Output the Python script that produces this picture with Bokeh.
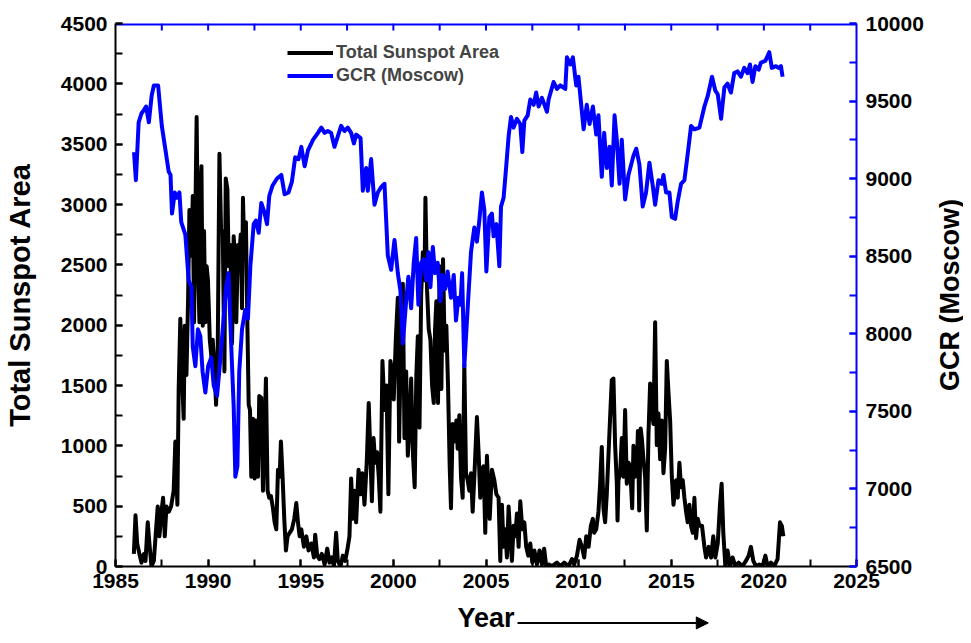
import numpy as np
from bokeh.plotting import figure
from bokeh.models import (Range1d, LinearAxis, SingleIntervalTicker, Legend, LegendItem,
                          Arrow, NormalHead)
from bokeh.layouts import column, row
from bokeh.core.properties import value
from bokeh.embed import file_html
from bokeh.resources import INLINE

# ---------------- data ----------------
ssa_year = [1985.99, 1986.08, 1986.17, 1986.29, 1986.40, 1986.53, 1986.62, 1986.74, 1986.83, 1986.94,
            1987.07, 1987.19, 1987.28, 1987.37, 1987.48, 1987.57, 1987.66, 1987.75, 1987.88, 1988.00,
            1988.14, 1988.23, 1988.34, 1988.41, 1988.50, 1988.59, 1988.68, 1988.74, 1988.83, 1988.92,
            1988.99, 1989.10, 1989.17, 1989.24, 1989.31, 1989.38, 1989.46, 1989.53, 1989.58, 1989.64,
            1989.71, 1989.78, 1989.85, 1989.92, 1989.99, 1990.09, 1990.18, 1990.25, 1990.35, 1990.43,
            1990.52, 1990.61, 1990.70, 1990.79, 1990.88, 1990.95, 1991.04, 1991.11, 1991.20, 1991.29,
            1991.38, 1991.43, 1991.52, 1991.61, 1991.68, 1991.76, 1991.83, 1991.88, 1991.95, 1992.04,
            1992.12, 1992.19, 1992.26, 1992.33, 1992.42, 1992.51, 1992.58, 1992.69, 1992.76, 1992.87,
            1992.96, 1993.05, 1993.12, 1993.21, 1993.30, 1993.39, 1993.50, 1993.59, 1993.68, 1993.77,
            1993.86, 1993.93, 1994.02, 1994.11, 1994.20, 1994.29, 1994.40, 1994.52, 1994.65, 1994.76,
            1994.85, 1994.94,
            1995.03, 1995.17, 1995.30, 1995.42, 1995.57, 1995.71, 1995.78, 1995.89, 1996.01, 1996.14,
            1996.29, 1996.43, 1996.55, 1996.68, 1996.79, 1996.91, 1997.00, 1997.15, 1997.27, 1997.40,
            1997.51, 1997.63, 1997.72, 1997.81, 1997.90, 1997.99, 1998.12, 1998.23, 1998.32, 1998.44,
            1998.57, 1998.67, 1998.76, 1998.84, 1998.93, 1999.02, 1999.12, 1999.21, 1999.30, 1999.41,
            1999.52, 1999.63, 1999.73, 1999.84, 1999.93, 2000.02, 2000.13, 2000.24, 2000.31, 2000.42,
            2000.51, 2000.60, 2000.69, 2000.78, 2000.87, 2000.96, 2001.06, 2001.15, 2001.24, 2001.32,
            2001.41, 2001.50, 2001.59, 2001.68, 2001.73, 2001.82, 2001.91, 2002.00, 2002.09, 2002.18,
            2002.25, 2002.32, 2002.41, 2002.50, 2002.59, 2002.68, 2002.77, 2002.86, 2002.95, 2003.04,
            2003.11, 2003.20, 2003.29, 2003.40, 2003.47, 2003.56, 2003.65, 2003.74, 2003.83, 2003.92,
            2004.01, 2004.10, 2004.19, 2004.28, 2004.37, 2004.51, 2004.60, 2004.69, 2004.78, 2004.87,
            2004.96, 2005.05,
            2005.20, 2005.32, 2005.45, 2005.56, 2005.68, 2005.77, 2005.86, 2005.95, 2006.04, 2006.13,
            2006.22, 2006.31, 2006.40, 2006.49, 2006.58, 2006.67, 2006.76, 2006.85, 2006.96, 2007.07,
            2007.17, 2007.28, 2007.39, 2007.50, 2007.61, 2007.75, 2007.89, 2008.02, 2008.14, 2008.25,
            2008.40, 2008.56, 2008.83, 2009.01, 2009.22, 2009.46, 2009.64, 2009.76, 2009.91, 2010.05,
            2010.18, 2010.30, 2010.41, 2010.54, 2010.66, 2010.77, 2010.84, 2010.95, 2011.07, 2011.16,
            2011.25, 2011.34, 2011.43, 2011.52, 2011.61, 2011.70, 2011.79, 2011.88, 2011.97, 2012.06,
            2012.10, 2012.15, 2012.24, 2012.33, 2012.42, 2012.51, 2012.60, 2012.69, 2012.78, 2012.89,
            2012.96, 2013.05, 2013.14, 2013.20, 2013.27, 2013.35, 2013.41, 2013.50, 2013.59, 2013.68,
            2013.77, 2013.86, 2013.95, 2014.04, 2014.13, 2014.22, 2014.31, 2014.40, 2014.49, 2014.58,
            2014.67, 2014.76, 2014.85, 2014.94, 2015.03, 2015.12,
            2015.26, 2015.35, 2015.44, 2015.53, 2015.62, 2015.71, 2015.80, 2015.89, 2015.98, 2016.07,
            2016.16, 2016.25, 2016.34, 2016.43, 2016.52, 2016.66, 2016.79, 2016.88, 2017.02, 2017.15,
            2017.27, 2017.38, 2017.51, 2017.63, 2017.72, 2017.81, 2017.92, 2018.04, 2018.17, 2018.31,
            2018.46, 2018.64, 2018.85, 2019.03, 2019.18, 2019.30, 2019.43, 2019.57, 2019.75, 2019.93,
            2020.08, 2020.20, 2020.38, 2020.56, 2020.74, 2020.87, 2020.97, 2021.05]

ssa_area = [104, 424, 191, 104, 32, 104, 46, 366, 191, 3,
            46, 308, 497, 250, 454, 570, 250, 497, 454, 497,
            628, 1035, 512, 1471, 2053, 1587, 1224, 1995, 1587, 2227,
            2954, 2576, 3071, 2024, 2896, 3725, 2489, 2024, 3071, 3318,
            1995, 2780, 2024, 2489, 2373, 1879, 1733, 1879, 1617, 1340,
            1820, 3420, 2780, 2780, 1617, 3216, 3129, 2489, 2664, 1849,
            2736, 2605, 2024, 2664, 2576, 2751, 2140, 3056, 2635, 2853,
            1995, 1340, 1297, 744, 1224, 730, 1209, 744, 1413, 1399,
            628, 1122, 1558, 628, 570, 584, 483, 366, 308, 802,
            744, 1035, 744, 395, 133, 250, 279, 308, 395, 526,
            366, 250,
            308, 163, 250, 133, 191, 75, 264, 90, 61, 104,
            17, 148, 32, 75, 3, 279, 46, 3, 90, 46,
            133, 250, 730, 395, 628, 366, 802, 599, 773, 512,
            889, 1355, 918, 541, 1064, 860, 947, 744, 454, 1704,
            1297, 1500, 599, 1704, 1617, 1384, 1879, 2227, 1035, 1966,
            2344, 1064, 1617, 918, 1151, 1558, 918, 657, 1587, 1908,
            1151, 2256, 2605, 2373, 3056, 2286, 1966, 1879, 1500, 1355,
            1966, 2198, 1355, 2489, 1471, 2547, 1791, 1995, 1500, 831,
            483, 1180, 1035, 1209, 976, 1253, 744, 570, 1675, 773,
            715, 628, 773, 454, 744, 1238, 947, 570, 802, 831,
            279, 918,
            395, 802, 715, 599, 570, 46, 512, 163, 308, 75,
            497, 250, 46, 337, 250, 439, 163, 541, 308, 366,
            163, 90, 191, 32, 133, 17, 133, 17, 148, 3,
            17, 3, 32, 3, 32, 3, 61, 17, 90, 221,
            163, 75, 250, 163, 337, 395, 279, 308, 454, 686,
            991, 483, 366, 599, 918, 1238, 1544, 1558, 1006, 700,
            381, 715, 773, 1064, 744, 1297, 686, 860, 831, 483,
            1000, 744, 773, 1122, 464, 1144, 1064, 889, 744, 298,
            1093, 1516, 1297, 1180, 2024, 1006, 1268, 889, 1209, 773,
            976, 1704, 1442, 1209, 744, 512,
            715, 570, 860, 657, 715, 570, 454, 366, 512, 337,
            279, 570, 235, 395, 337, 337, 163, 75, 163, 75,
            250, 75, 191, 512, 686, 279, 3, 133, 3, 75,
            3, 32, 3, 46, 90, 163, 46, 3, 17, 3,
            90, 3, 32, 3, 61, 366, 337, 250]

gcr_year = [1986.00, 1986.10, 1986.25, 1986.40, 1986.53, 1986.65, 1986.80, 1986.95, 1987.07, 1987.30,
            1987.50, 1987.70, 1987.87, 1987.97, 1988.05, 1988.20, 1988.32, 1988.45, 1988.55, 1988.77,
            1988.95, 1989.10, 1989.17, 1989.31, 1989.45, 1989.58, 1989.70, 1989.85, 1990.00, 1990.17,
            1990.30, 1990.48, 1990.60, 1990.79, 1990.97, 1991.10, 1991.25, 1991.38, 1991.47, 1991.58,
            1991.68, 1991.83, 1992.00, 1992.15, 1992.28, 1992.46, 1992.58, 1992.73, 1992.87, 1993.03,
            1993.18, 1993.30, 1993.48, 1993.72, 1993.95, 1994.13, 1994.34, 1994.52, 1994.70, 1994.88,
            1995.03, 1995.21, 1995.39, 1995.66, 1995.93, 1996.11, 1996.29, 1996.46, 1996.64, 1996.82,
            1997.00, 1997.18, 1997.36, 1997.54, 1997.72, 1997.87, 1997.99, 1998.23, 1998.35, 1998.53,
            1998.62, 1998.80, 1998.98, 1999.16, 1999.34, 1999.52, 1999.70, 1999.88, 2000.06, 2000.24,
            2000.38, 2000.51, 2000.69, 2000.81, 2000.96, 2001.10, 2001.23, 2001.35, 2001.50, 2001.64,
            2001.77, 2001.89, 2002.00, 2002.13, 2002.25, 2002.39, 2002.54, 2002.66, 2002.79, 2002.93,
            2003.11, 2003.26, 2003.38, 2003.51, 2003.62, 2003.71, 2003.83, 2004.01, 2004.19, 2004.37,
            2004.51, 2004.64, 2004.78, 2004.91, 2005.02, 2005.18, 2005.32, 2005.41, 2005.56, 2005.72,
            2005.81, 2005.95, 2006.10, 2006.22, 2006.35, 2006.49, 2006.67, 2006.85, 2006.96, 2007.07,
            2007.25, 2007.39, 2007.57, 2007.71, 2007.84, 2008.02, 2008.29, 2008.38, 2008.65, 2008.83,
            2009.01, 2009.28, 2009.37, 2009.55, 2009.69, 2009.87, 2009.99, 2010.27, 2010.44, 2010.59,
            2010.77, 2010.95, 2011.07, 2011.25, 2011.38, 2011.52, 2011.67, 2011.79, 2011.94, 2012.06,
            2012.21, 2012.33, 2012.51, 2012.69, 2012.96, 2013.11, 2013.28, 2013.46, 2013.64, 2013.82,
            2014.00, 2014.13, 2014.31, 2014.49, 2014.58, 2014.72, 2014.90, 2015.03, 2015.21, 2015.35,
            2015.53, 2015.71, 2015.89, 2016.07, 2016.25, 2016.52, 2016.79, 2016.97, 2017.20, 2017.38,
            2017.51, 2017.69, 2017.87, 2018.04, 2018.22, 2018.40, 2018.58, 2018.76, 2018.94, 2019.12,
            2019.25, 2019.39, 2019.54, 2019.72, 2019.84, 2020.08, 2020.29, 2020.43, 2020.65, 2020.79,
            2020.92, 2021.01]

gcr_count = [9171, 8990, 9363, 9420, 9442, 9465, 9363, 9533, 9601, 9601,
             9340, 9182, 9046, 9024, 8775, 8911, 8877, 8911, 8719, 8639,
             8345, 8300, 7916, 7791, 8029, 7984, 7757, 7622, 7791, 7848,
             7667, 7599, 7757, 8029, 8300, 8391, 7916, 7531, 7079, 7147,
             7757, 8029, 8153, 8097, 8436, 8707, 8730, 8651, 8843, 8786,
             8707, 8888, 8956, 9001, 9024, 8899, 8911, 8979, 9137, 9126,
             9205, 9080, 9182, 9250, 9295, 9329, 9295, 9307, 9295, 9205,
             9273, 9340, 9307, 9329, 9295, 9227, 9284, 9261, 8922, 9069,
             8922, 9126, 8832, 8911, 8945, 8967, 8504, 8413, 8605, 8391,
             8278, 7938, 8210, 8368, 8164, 8458, 8617, 8187, 8458, 8481,
             8345, 8526, 8300, 8560, 8391, 8458, 8210, 8379, 8289, 8402,
             8232, 8379, 8085, 8232, 8187, 8391, 7791, 8164, 8526, 8685,
             8594, 8730, 8911, 8798, 8402, 8752, 8775, 8628, 8707, 8436,
             8820, 8877, 9092, 9273, 9397, 9329, 9386, 9352, 9171, 9374,
             9408, 9510, 9476, 9555, 9465, 9521, 9431, 9510, 9623, 9578,
             9601, 9578, 9782, 9736, 9782, 9601, 9657, 9318, 9476, 9352,
             9465, 9284, 9408, 9012, 9295, 9069, 9205, 8956, 9408, 9250,
             8967, 9250, 8866, 9024, 9148, 9193, 9092, 8820, 8911, 9103,
             8956, 8832, 8990, 8967, 9024, 8911, 8911, 8752, 8741, 8854,
             8967, 8990, 9160, 9340, 9318, 9329, 9465, 9533, 9657, 9567,
             9544, 9386, 9589, 9612, 9555, 9680, 9691, 9657, 9714, 9680,
             9736, 9623, 9725, 9702, 9748, 9759, 9815, 9714, 9725, 9714,
             9725, 9657]

x_start, x_end = 1985, 2025
ssa_lo, ssa_hi = 0, 4500
gcr_lo, gcr_hi = 6500, 10000
x_tick_step = 2.5

# ---------------- styling ----------------
FONT = "Liberation Sans"
BLUE = "#0000ff"
W_MAIN = 935
W_SIDE = 28
L, R = 114, W_MAIN - 856
TOP = 23
FRAME_H = 543
BOT = 34
H_MAIN = TOP + FRAME_H + BOT

p = figure(width=W_MAIN, height=H_MAIN, output_backend="svg", toolbar_location=None,
           x_range=Range1d(x_start, x_end), y_range=Range1d(ssa_lo, ssa_hi),
           min_border_left=L, min_border_right=R, min_border_top=TOP, min_border_bottom=BOT)
p.outline_line_color = None
p.grid.visible = False
p.extra_y_ranges = {"gcr": Range1d(gcr_lo, gcr_hi)}


def style_axis(ax, color):
    ax.axis_line_color = color
    ax.axis_line_width = 2
    ax.major_tick_line_color = color
    ax.minor_tick_line_color = color
    ax.major_tick_line_width = 2
    ax.minor_tick_line_width = 2
    ax.major_tick_in = 7
    ax.major_tick_out = 0
    ax.minor_tick_in = 7
    ax.minor_tick_out = 0
    ax.major_label_text_font = FONT
    ax.major_label_text_font_style = "bold"
    ax.major_label_text_font_size = "21px"
    ax.major_label_text_color = "black"
    ax.major_label_standoff = 8
    ax.axis_label_text_font = FONT
    ax.axis_label_text_font_style = "bold"
    ax.axis_label_text_color = "black"


xa = p.xaxis[0]
xa.ticker = SingleIntervalTicker(interval=5, num_minor_ticks=2)
style_axis(xa, "black")
xa.major_label_standoff = 7

ya = p.yaxis[0]
ya.ticker = SingleIntervalTicker(interval=500, num_minor_ticks=2)
style_axis(ya, "black")
ya.axis_label = "Total Sunspot Area"
ya.axis_label_text_font_size = "29px"
ya.axis_label_standoff = 22

ra = LinearAxis(y_range_name="gcr", ticker=SingleIntervalTicker(interval=500, num_minor_ticks=2))
style_axis(ra, BLUE)
ra.major_label_standoff = 9
p.add_layout(ra, "right")

# blue top frame line with inward ticks
tick_len = 7 * (ssa_hi - ssa_lo) / FRAME_H
top_ticks = np.arange(x_start + x_tick_step, x_end, x_tick_step)
p.segment(x0=[x_start], y0=[ssa_hi], x1=[x_end], y1=[ssa_hi], line_color=BLUE, line_width=4)
p.segment(x0=top_ticks, y0=ssa_hi, x1=top_ticks, y1=ssa_hi - tick_len, line_color=BLUE, line_width=2)

r_ssa = p.line(ssa_year, ssa_area, line_color="black", line_width=4, line_join="round")
r_gcr = p.line(gcr_year, gcr_count, line_color=BLUE, line_width=4, line_join="round",
               y_range_name="gcr")

legend = Legend(items=[LegendItem(label="Total Sunspot Area", renderers=[r_ssa]),
                       LegendItem(label="GCR (Moscow)", renderers=[r_gcr])],
                location=(172, 479))
legend.border_line_color = None
legend.background_fill_alpha = 0
legend.padding = 0
legend.spacing = 0
legend.margin = 0
legend.glyph_width = 46
legend.glyph_height = 23
legend.label_height = 23
legend.label_standoff = 3
legend.label_text_font = FONT
legend.label_text_font_style = "bold"
legend.label_text_font_size = "18px"
p.add_layout(legend, "center")

# ---------------- "Year ---->" strip below ----------------
H2 = 35
p2 = figure(width=W_MAIN, height=H2, output_backend="svg", toolbar_location=None,
            x_range=p.x_range, y_range=Range1d(0, 1),
            min_border_left=L, min_border_right=R, min_border_top=0, min_border_bottom=0,
            x_axis_location=None, y_axis_location=None)
p2.outline_line_color = None
p2.grid.visible = False
p2.text(x=[(x_start + x_end) / 2], y=[0.5], text=["Year"],
        text_font=value(FONT), text_font_style="bold", text_font_size="27px",
        text_align="center", text_baseline="middle", text_color="black")
p2.add_layout(Arrow(end=NormalHead(size=12, fill_color="black", line_color="black"),
                    x_start=2006.7, x_end=2017.0, y_start=0.36, y_end=0.36,
                    line_color="black", line_width=2))

# ---------------- right-hand axis title strip ----------------
p3 = figure(width=W_SIDE, height=H_MAIN, output_backend="svg", toolbar_location=None,
            x_range=Range1d(0, 1), y_range=Range1d(0, H_MAIN),
            min_border_left=0, min_border_right=0, min_border_top=0, min_border_bottom=0,
            x_axis_location=None, y_axis_location=None)
p3.outline_line_color = None
p3.grid.visible = False
p3.text(x=[0.5], y=[H_MAIN - TOP - FRAME_H / 2], text=["GCR (Moscow)"], angle=np.pi / 2,
        text_font=value(FONT), text_font_style="bold", text_font_size="27px",
        text_align="center", text_baseline="middle", text_color="black")

layout = row(column(p, p2, spacing=0), p3, spacing=0)
open("out.html", "w").write(file_html(layout, INLINE))
